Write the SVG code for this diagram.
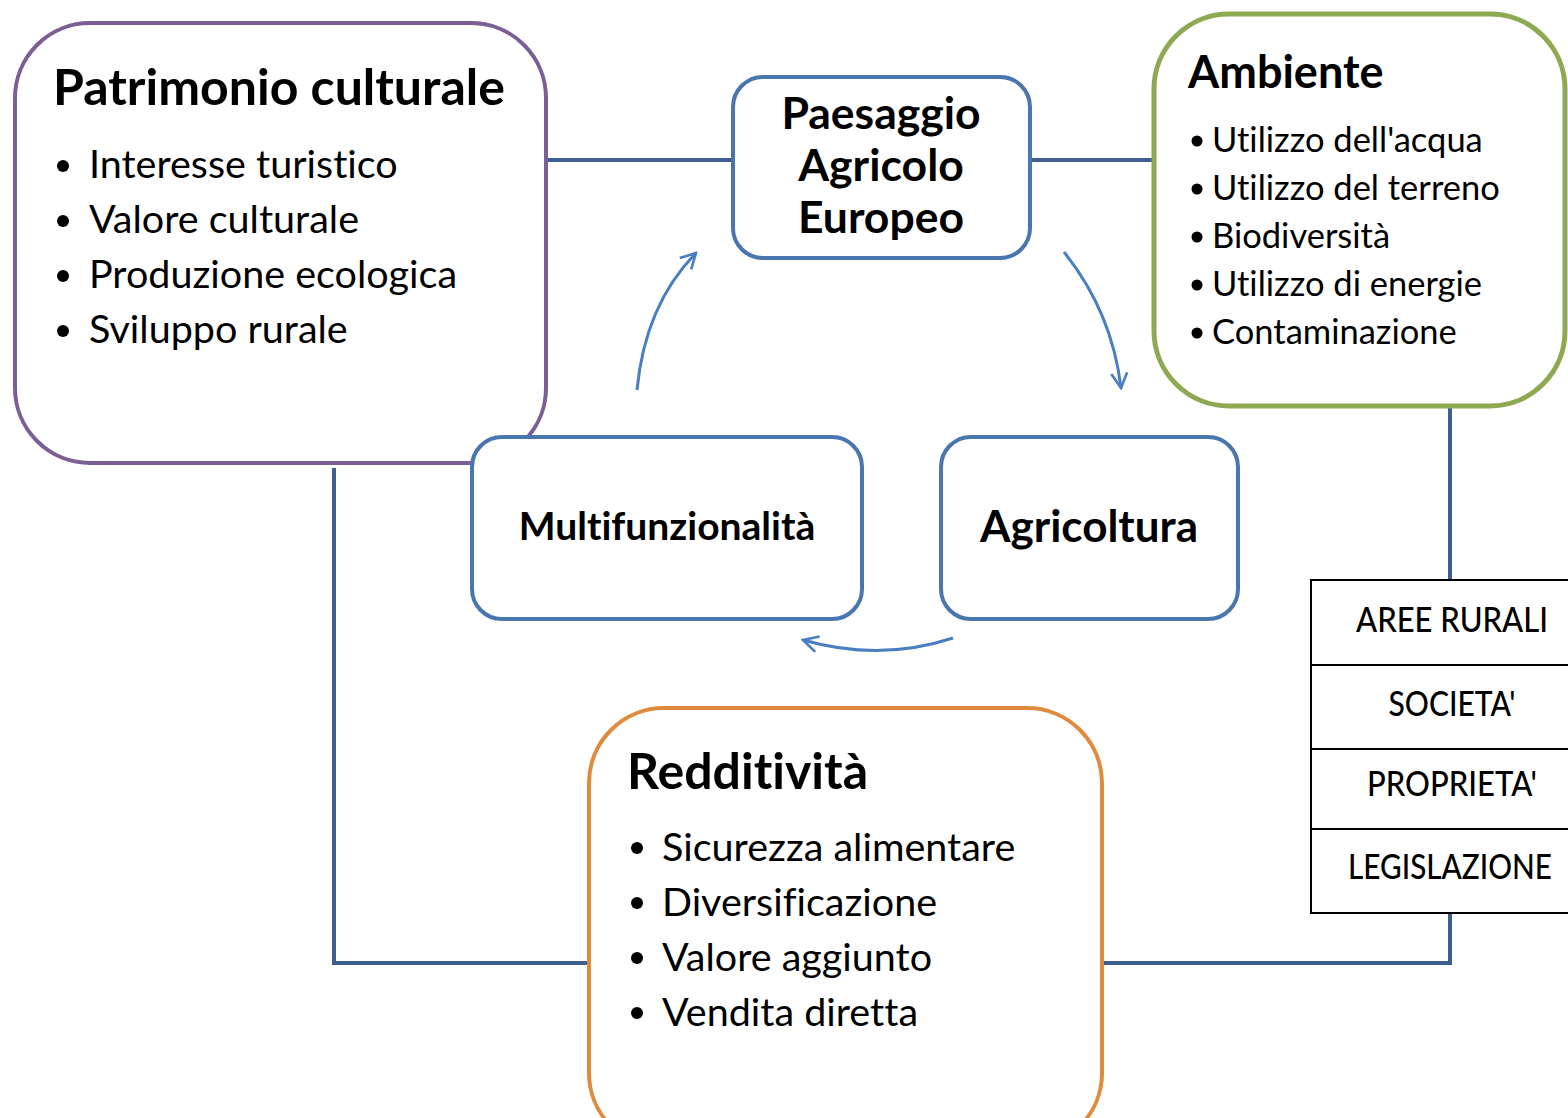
<svg xmlns="http://www.w3.org/2000/svg" width="1568" height="1118" viewBox="0 0 1568 1118">
<style>
text{font-family:Lato,"Open Sans","Noto Sans",sans-serif;fill:#000;font-variant-ligatures:none}
.t{font-weight:bold}
.b{font-size:39.5px}
.tb{font-family:Roboto,"Liberation Sans",sans-serif;font-size:34px;font-weight:500}
.conn{stroke:#3D5E8E;stroke-width:4;fill:none}
.arr{stroke:#4A7EC2;stroke-width:3;fill:none;marker-end:url(#ah)}
.blue{fill:#fff;stroke:#4A76B0;stroke-width:4}
</style>
<defs>
<marker id="ah" viewBox="0 0 20 20" refX="18" refY="10" markerWidth="20" markerHeight="20" markerUnits="userSpaceOnUse" orient="auto">
<polyline points="3,2 18,10 3,18" fill="none" stroke="#4A7EC2" stroke-width="2.6"/>
</marker>
</defs>
<rect width="1568" height="1118" fill="#fff"/>
<g id="connectors">
<line class="conn" x1="546" y1="160" x2="733" y2="160"/>
<line class="conn" x1="1030" y1="160" x2="1154" y2="160"/>
<polyline class="conn" points="1450,406 1450,580"/>
<polyline class="conn" points="1450,913 1450,963 1102,963"/>
<polyline class="conn" points="334,468 334,963 589,963"/>
<path class="arr" d="M637,390 Q645,305 696,253"/>
<path class="arr" d="M1064,252 Q1112,312 1121,388"/>
<path class="arr" d="M953,638 Q880,662 803,640"/>
</g>
<g id="patrimonio">
<rect x="15" y="23" width="531" height="440" rx="75" fill="#fff" stroke="#7A5F97" stroke-width="4"/>
<text class="t" x="53" y="105" font-size="50">Patrimonio culturale</text>
<g class="b">
<circle cx="63" cy="166" r="6"/><text x="89" y="178">Interesse turistico</text>
<circle cx="63" cy="221" r="6"/><text x="89" y="233">Valore culturale</text>
<circle cx="63" cy="276" r="6"/><text x="89" y="288">Produzione ecologica</text>
<circle cx="63" cy="331" r="6"/><text x="89" y="343">Sviluppo rurale</text>
</g>
</g>
<g id="ambiente">
<rect x="1154" y="14" width="411" height="392" rx="75" fill="#fff" stroke="#8DAA52" stroke-width="5"/>
<text class="t" x="1188" y="88" font-size="45">Ambiente</text>
<g font-size="34.5">
<circle cx="1197" cy="141" r="5.5"/><text x="1212" y="152">Utilizzo dell'acqua</text>
<circle cx="1197" cy="189" r="5.5"/><text x="1212" y="200">Utilizzo del terreno</text>
<circle cx="1197" cy="237" r="5.5"/><text x="1212" y="248">Biodiversità</text>
<circle cx="1197" cy="285" r="5.5"/><text x="1212" y="296">Utilizzo di energie</text>
<circle cx="1197" cy="333" r="5.5"/><text x="1212" y="344">Contaminazione</text>
</g>
</g>
<g id="paesaggio">
<rect class="blue" x="733" y="77" width="297" height="181" rx="30"/>
<g class="t" font-size="44.5" text-anchor="middle">
<text x="881" y="129">Paesaggio</text>
<text x="881" y="181">Agricolo</text>
<text x="881" y="233">Europeo</text>
</g>
</g>
<g id="multifunzionalita">
<rect class="blue" x="472" y="437" width="390" height="182" rx="30"/>
<text class="t" x="667" y="540" font-size="39" text-anchor="middle">Multifunzionalità</text>
</g>
<g id="agricoltura">
<rect class="blue" x="941" y="437" width="297" height="182" rx="30"/>
<text class="t" x="1089" y="542" font-size="44" text-anchor="middle">Agricoltura</text>
</g>
<g id="redditivita">
<rect x="589" y="708" width="513" height="440" rx="75" fill="#fff" stroke="#E08A3B" stroke-width="4"/>
<text class="t" x="627" y="789" font-size="50">Redditività</text>
<g class="b">
<circle cx="637" cy="848" r="6"/><text x="662" y="861">Sicurezza alimentare</text>
<circle cx="637" cy="903" r="6"/><text x="662" y="916">Diversificazione</text>
<circle cx="637" cy="958" r="6"/><text x="662" y="971">Valore aggiunto</text>
<circle cx="637" cy="1013" r="6"/><text x="662" y="1026">Vendita diretta</text>
</g>
</g>
<g id="table">
<rect x="1311" y="580" width="270" height="333" fill="#fff" stroke="#000" stroke-width="2"/>
<line x1="1311" y1="665" x2="1568" y2="665" stroke="#000" stroke-width="2"/>
<line x1="1311" y1="749" x2="1568" y2="749" stroke="#000" stroke-width="2"/>
<line x1="1311" y1="829" x2="1568" y2="829" stroke="#000" stroke-width="2"/>
<g class="tb" text-anchor="middle">
<text x="1452" y="632" textLength="192" lengthAdjust="spacingAndGlyphs">AREE RURALI</text>
<text x="1452" y="716" textLength="127" lengthAdjust="spacingAndGlyphs">SOCIETA'</text>
<text x="1452" y="796" textLength="170" lengthAdjust="spacingAndGlyphs">PROPRIETA'</text>
<text x="1450" y="879" textLength="204" lengthAdjust="spacingAndGlyphs">LEGISLAZIONE</text>
</g>
</g>
</svg>
